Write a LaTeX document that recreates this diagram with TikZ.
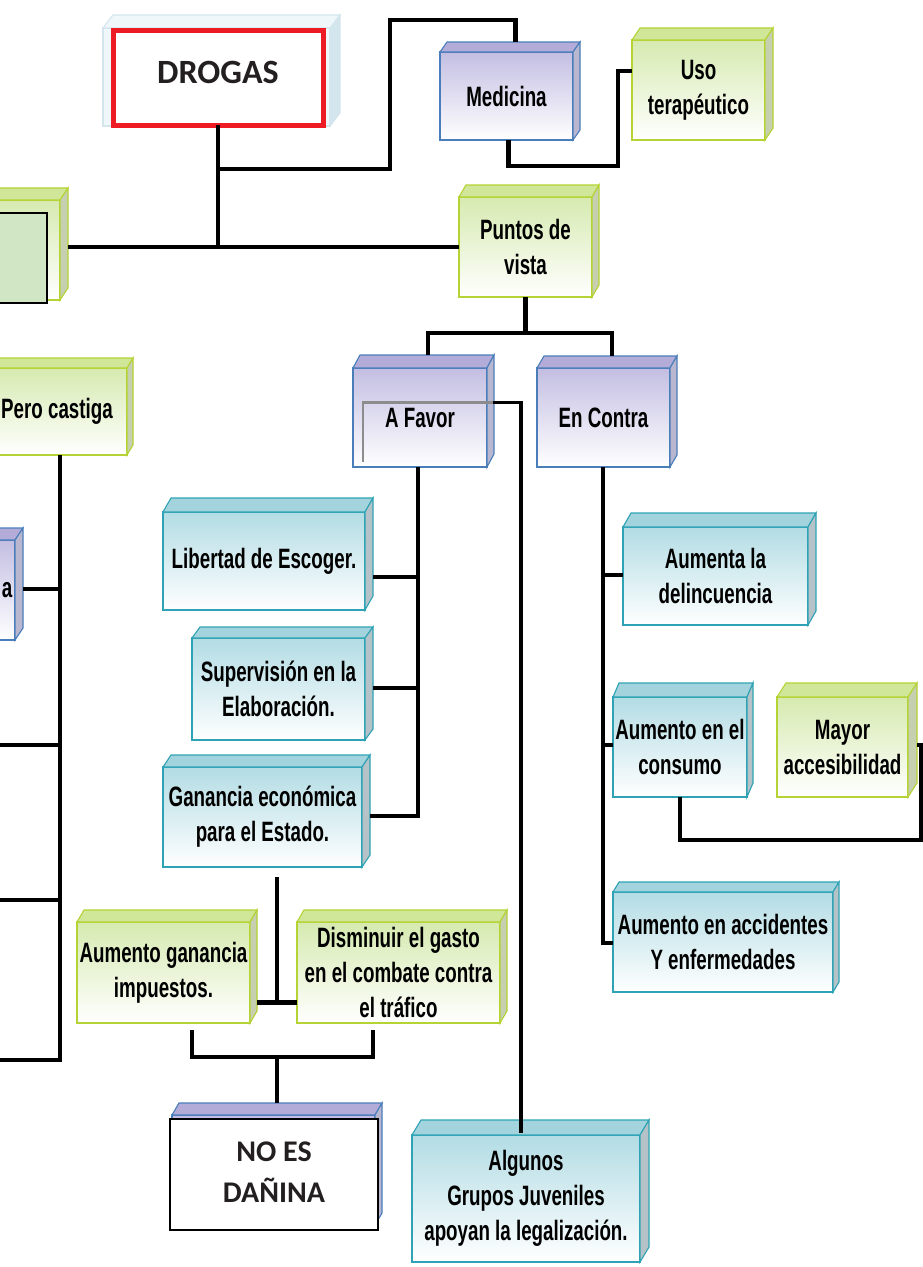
\documentclass[tikz,border=0pt]{standalone}
\usepackage{fontspec}
\usetikzlibrary{calc}
\newfontfamily\narrowsans[FakeStretch=0.67]{Liberation Sans}
\newfontfamily\calibrisub{Carlito}
\newcommand\boxtext{\narrowsans\bfseries\fontsize{28}{35}\selectfont}
\newcommand\bigtext{\calibrisub\bfseries\fontsize{34}{40}\selectfont}
\newcommand\midtext{\calibrisub\bfseries\fontsize{30}{35}\selectfont}
\definecolor{pbord}{HTML}{4A7EBB}
\definecolor{ptop}{HTML}{C3BEE2}
\definecolor{pbevel}{HTML}{B3ACD8}
\definecolor{pside}{HTML}{B9B6D0}
\definecolor{gbord}{HTML}{B5D334}
\definecolor{gtop}{HTML}{D6EAB0}
\definecolor{gbevel}{HTML}{D0E79A}
\definecolor{gside}{HTML}{C6CFB0}
\definecolor{tbord}{HTML}{2FA3B5}
\definecolor{ttop}{HTML}{B2DCE4}
\definecolor{tbevel}{HTML}{A3D4DE}
\definecolor{tside}{HTML}{B5C3C8}
\definecolor{dbord}{HTML}{D3E6EE}
\definecolor{dfill}{HTML}{F0F7FA}
\definecolor{lgreen}{HTML}{D0E6C4}
\definecolor{redframe}{HTML}{ED1C24}
\definecolor{textdark}{HTML}{231F20}
\tikzset{
  face/.style={draw, line width=1.1pt, inner sep=0pt, outer sep=0pt, align=center, font=\boxtext, text=black},
  pface/.style={face, draw=pbord, top color=ptop, bottom color=white},
  gface/.style={face, draw=gbord, top color=gtop, bottom color=white},
  tface/.style={face, draw=tbord, top color=ttop, bottom color=white},
  dface/.style={face, draw=dbord, fill=dfill},
  pbev/.style={fill=pbevel, draw=pbord, line width=1.1pt},
  psid/.style={fill=pside, draw=pbord, line width=1.1pt},
  gbev/.style={fill=gbevel, draw=gbord, line width=1.1pt},
  gsid/.style={fill=gside, draw=gbord, line width=1.1pt},
  tbev/.style={fill=tbevel, draw=tbord, line width=1.1pt},
  tsid/.style={fill=tside, draw=tbord, line width=1.1pt},
  dbev/.style={fill=dfill, draw=dbord, line width=1.1pt},
  dsid/.style={fill=dbord, draw=dbord, line width=1.1pt},
  redbox/.style={draw=redframe, line width=5pt, fill=white, inner sep=0pt, outer sep=0pt, font=\bigtext, text=textdark},
  whitebox/.style={draw=black, line width=1.5pt, fill=white, inner sep=0pt, outer sep=0pt, font=\midtext, text=textdark},
  coverbox/.style={draw=black, line width=1.3pt, fill=lgreen, inner sep=0pt, outer sep=0pt},
  conn/.style={line width=4.5pt, black},
  thinconn/.style={line width=3.3pt, black},
  ghostline/.style={line width=2.5pt, color=black!45},
}
\newcommand\cubesides[4]{%
  \filldraw[#4bev] (#1.north west) -- ++(#2,-#3) -- ($(#1.north east)+(#2,-#3)$) -- (#1.north east) -- cycle;
  \filldraw[#4sid] (#1.north east) -- ++(#2,-#3) -- ($(#1.south east)+(#2,-#3)$) -- (#1.south east) -- cycle;
}
\begin{document}
\begin{tikzpicture}[x=1pt,y=-1pt]
\fill[white] (0,0) rectangle (923,1267);
\useasboundingbox (0,0) rectangle (923,1267);

% ---------- DROGAS ----------
\node[dface, minimum width=227, minimum height=98] (drogasback) at (216.5,77) {};
\cubesides{drogasback}{10}{13}{d}
\node[redbox, minimum width=210, minimum height=95] (drogas) at (218,77.5) {\raisebox{11pt}{DROGAS}};

% ---------- left partial boxes ----------
\node[gface, minimum width=80, minimum height=100] (leftbox) at (20,250) {};
\cubesides{leftbox}{8}{12}{g}
\node[coverbox, minimum width=52, minimum height=90] (leftcover) at (21,258) {};

\node[gface, minimum width=147, minimum height=87] (pero) at (53.5,411.5) {\hspace*{7pt}Pero castiga};
\cubesides{pero}{6}{10}{g}

\node[pface, minimum width=60, minimum height=100] (ppart) at (-15,590) {\hspace*{44pt}a};
\cubesides{ppart}{8}{12}{p}

% ---------- top right ----------
\node[pface, minimum width=133, minimum height=88] (medicina) at (506.5,96) {Medicina};
\cubesides{medicina}{7}{10}{p}

\node[gface, minimum width=133, minimum height=100] (uso) at (698.5,90) {Uso\\terapéutico};
\cubesides{uso}{8}{12}{g}

\node[gface, minimum width=133, minimum height=100] (puntos) at (525.5,247) {Puntos de\\vista};
\cubesides{puntos}{7}{12}{g}

% ---------- A favor / En contra ----------
\node[pface, minimum width=134, minimum height=99] (afavor) at (420,417.5) {A Favor};
\cubesides{afavor}{7}{13}{p}
\draw[ghostline] ($(afavor.south west)+(10,-5)$) |- ($(afavor.east)+(6,-15)$);

\node[pface, minimum width=133, minimum height=99] (encontra) at (603.5,417.5) {En Contra};
\cubesides{encontra}{7}{12}{p}

% ---------- A favor children ----------
\node[tface, minimum width=202, minimum height=98] (libertad) at (264,561) {Libertad de Escoger.};
\cubesides{libertad}{8}{14}{t}

\node[tface, minimum width=173, minimum height=102] (superv) at (278.5,689) {Supervisión en la\\Elaboración.};
\cubesides{superv}{8}{11}{t}

\node[tface, minimum width=199, minimum height=100] (ganancia) at (262.5,817) {Ganancia económica\\para el Estado.};
\cubesides{ganancia}{8}{12}{t}

\node[gface, minimum width=173, minimum height=101] (aumgan) at (163.5,972.5) {Aumento ganancia\\impuestos.};
\cubesides{aumgan}{7}{12}{g}

\node[gface, minimum width=203, minimum height=101] (dismin) at (398.5,972.5) {Disminuir el gasto\\en el combate contra\\el tráfico};
\cubesides{dismin}{7}{12}{g}

\node[pface, minimum width=203, minimum height=110] (noesback) at (273.5,1170) {};
\cubesides{noesback}{7}{12}{p}
\node[whitebox, minimum width=208, minimum height=111] (noes) at (274,1174.5) {\raisebox{9pt}{\begin{tabular}{@{}c@{}}NO ES\\[6pt]DAÑINA\end{tabular}}};

\node[tface, minimum width=228, minimum height=127] (algunos) at (526,1198.5) {\raisebox{16pt}{\begin{tabular}{@{}c@{}}Algunos\\Grupos Juveniles\\apoyan la legalización.\end{tabular}}};
\cubesides{algunos}{9}{15}{t}

% ---------- En contra children ----------
\node[tface, minimum width=185, minimum height=98] (delinc) at (715.5,576) {Aumenta la\\delincuencia};
\cubesides{delinc}{8}{14}{t}

\node[tface, minimum width=134, minimum height=100] (consumo) at (680,747) {Aumento en el\\consumo};
\cubesides{consumo}{6}{14}{t}

\node[gface, minimum width=131, minimum height=100] (mayor) at (842.5,747) {Mayor\\accesibilidad};
\cubesides{mayor}{9}{14}{g}

\node[tface, minimum width=220, minimum height=100] (accid) at (723,942) {Aumento en accidentes\\Y enfermedades};
\cubesides{accid}{6}{10}{t}

% ---------- connectors ----------
\draw[conn] (drogas.south) -- (drogas.south |- puntos.west);
\draw[conn] ($(leftbox.east)+(8,-3)$) -- (puntos.west);
\draw[conn] ($(drogas.south)+(0,44)$) -| (390,20) -| ($(medicina.north)+(9,-10)$);
\draw[conn] ($(medicina.south)+(2,0)$) |- (618,166) |- ($(uso.west)+(0,-19)$);

\draw[conn] (puntos.south) -- ++(0,36);
\draw[conn] ($(afavor.north)+(8,-13)$) -- ++(0,-22) -| ($(encontra.north)+(8.5,-12)$);

\draw[thinconn] ($(afavor.east)+(6,-15)$) -| ($(algunos.north)+(-5,-2)$);

\coordinate (fvtop) at ($(afavor.south)+(-2,0)$);
\draw[conn] (fvtop) |- ($(ganancia.east)+(8,-1)$);
\draw[conn] ($(libertad.east)+(8,16)$) -- (fvtop |- {$(libertad.east)+(8,16)$});
\draw[conn] ($(superv.east)+(8,-1)$) -- (fvtop |- {$(superv.east)+(8,-1)$});

\draw[conn] ($(ganancia.south)+(14.5,10)$) -- ($(ganancia.south)+(14.5,135)$);
\draw[conn] ($(aumgan.east)+(7,30)$) -- ($(dismin.west)+(0,30)$);
\draw[conn] ($(aumgan.south)+(28.5,7)$) -- ++(0,27) -| ($(dismin.south)+(-25.5,7)$);
\draw[conn] ($(noesback.north)+(3.5,-12)$) -- ++(0,-46);

\coordinate (ectop) at ($(encontra.south)+(-0.5,0)$);
\draw[thinconn] (ectop) |- ($(accid.west)+(0,1)$);
\draw[thinconn] ($(delinc.west)+(0,-1)$) -- (ectop |- {$(delinc.west)+(0,-1)$});
\draw[thinconn] ($(consumo.west)+(0,-2)$) -- (ectop |- {$(consumo.west)+(0,-2)$});
\draw[conn] (consumo.south) -- ++(0,43) -| ($(mayor.east)+(13,-2)$) -- ($(mayor.east)+(9,-2)$);

\coordinate (ptrunk) at ($(pero.south)+(6.5,0)$);
\draw[conn] (ptrunk) -- ++(0,605);
\draw[conn] ($(ppart.east)+(8,-1)$) -- (ptrunk |- {$(ppart.east)+(8,-1)$});
\coordinate (offa) at (-5,745);
\coordinate (offb) at (-5,900);
\coordinate (offc) at (-5,1060);
\draw[conn] (offa) -- (offa -| ptrunk);
\draw[conn] (offb) -- (offb -| ptrunk);
\draw[conn] (offc) -- ($(offc -| ptrunk)+(2.25,0)$);
\end{tikzpicture}
\end{document}
